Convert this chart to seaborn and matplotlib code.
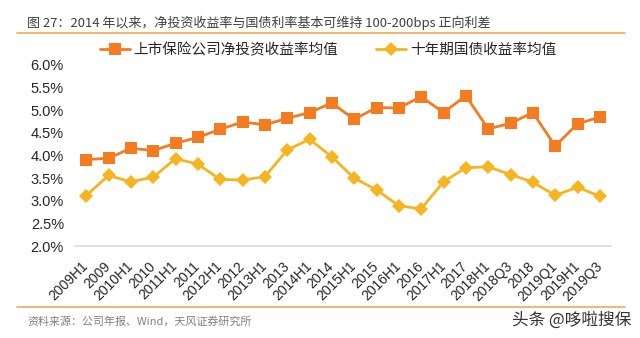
import matplotlib
matplotlib.use("Agg")
import matplotlib.pyplot as plt
import matplotlib.transforms as mtransforms
from matplotlib.lines import Line2D
import seaborn as sns
import pandas as pd

categories = ["2009H1", "2009", "2010H1", "2010", "2011H1", "2011", "2012H1", "2012",
              "2013H1", "2013", "2014H1", "2014", "2015H1", "2015", "2016H1", "2016",
              "2017H1", "2017", "2018H1", "2018Q3", "2018", "2019Q1", "2019H1", "2019Q3"]
insurer_yield = [3.91, 3.94, 4.16, 4.11, 4.27, 4.40, 4.58, 4.74, 4.68, 4.82, 4.95, 5.16,
                 4.80, 5.06, 5.05, 5.30, 4.95, 5.32, 4.59, 4.71, 4.95, 4.21, 4.70, 4.85]
bond_yield = [3.11, 3.56, 3.42, 3.52, 3.93, 3.81, 3.47, 3.46, 3.53, 4.12, 4.36, 3.97,
              3.50, 3.24, 2.89, 2.82, 3.42, 3.73, 3.75, 3.58, 3.41, 3.12, 3.30, 3.10]
series_names = ["上市保险公司净投资收益率均值", "十年期国债收益率均值"]
yticks = [2.0, 2.5, 3.0, 3.5, 4.0, 4.5, 5.0, 5.5, 6.0]

title = "图 27：2014 年以来，净投资收益率与国债利率基本可维持 100-200bps 正向利差"
source = "资料来源：公司年报、Wind，天风证券研究所"
watermark = "头条 @哆啦搜保"

sns.set_theme(style="white")
plt.rcParams['font.family'] = ['Liberation Sans', 'Noto Sans CJK SC', 'DejaVu Sans']

df = pd.DataFrame({"period": categories * 2,
                   "value": insurer_yield + bond_yield,
                   "series": [series_names[0]] * len(categories) + [series_names[1]] * len(categories)})

fig = plt.figure(figsize=(6.4, 3.38), dpi=100)
ax = fig.add_axes([75 / 640, 92 / 338, (611 - 75) / 640, (246 - 65) / 338])

orange = "#F47B20"
yellow = "#F5B520"
sns.lineplot(data=df, x="period", y="value", hue="series", style="series",
             markers={series_names[0]: "s", series_names[1]: "D"},
             dashes=False, palette={series_names[0]: orange, series_names[1]: yellow},
             linewidth=2.0, markersize=8, markeredgewidth=0, sort=False, ax=ax, legend=False)
for line in ax.lines:
    if line.get_marker() == "D":
        line.set_markersize(7)

ax.set_xlim(-0.5, len(categories) - 0.5)
ax.set_ylim(2.0, 6.0)
ax.set_yticks(yticks)
ax.set_yticklabels([f"{v:.1f}%" for v in yticks], fontsize=10.5, color="#262626")
ax.set_xticks(range(len(categories)))
ax.set_xticklabels(categories, fontsize=10, color="#262626", rotation=45,
                   ha="right", va="center", rotation_mode="anchor")
offset = mtransforms.ScaledTranslation(6 / 100, 0, fig.dpi_scale_trans)
for lab in ax.get_xticklabels():
    lab.set_transform(lab.get_transform() + offset)
ax.tick_params(axis="x", length=0, pad=13)
ax.tick_params(axis="y", length=0, pad=8)
ax.set_xlabel("")
ax.set_ylabel("")
for s in ["top", "right", "left"]:
    ax.spines[s].set_visible(False)
ax.spines["bottom"].set_color("#d9d9d9")
ax.spines["bottom"].set_linewidth(1.2)

handles = [Line2D([], [], color=orange, marker="s", markersize=8, linewidth=2.0, markeredgewidth=0),
           Line2D([], [], color=yellow, marker="D", markersize=7, linewidth=2.0, markeredgewidth=0)]
fig.legend(handles, series_names, loc="center", bbox_to_anchor=(328 / 640, 1 - 50 / 338),
           ncol=2, frameon=False, handlelength=2.05, handletextpad=0.25,
           columnspacing=2.6, borderpad=0, prop={"family": ["Noto Sans CJK SC"], "size": 10.5})

fig.text(27 / 640, 1 - 22.5 / 338, title, fontsize=9.4, color="#404040", va="center", ha="left",
         family=["Noto Sans CJK SC"])
fig.add_artist(Line2D([17 / 640, 625 / 640], [1 - 33 / 338] * 2, color="#F5A55A", linewidth=1.2,
                      transform=fig.transFigure))
fig.add_artist(Line2D([17 / 640, 625 / 640], [1 - 307 / 338] * 2, color="#F5A55A", linewidth=1.2,
                      transform=fig.transFigure))
fig.text(27 / 640, 1 - 321 / 338, source, fontsize=7.9, color="#808080", va="center", ha="left",
         family=["Noto Sans CJK SC"])
fig.text(631 / 640, 1 - 320 / 338, watermark, fontsize=12, color="#333333", va="center", ha="right",
         family=["Noto Sans CJK SC"])

fig.savefig("out.png", dpi=100)
